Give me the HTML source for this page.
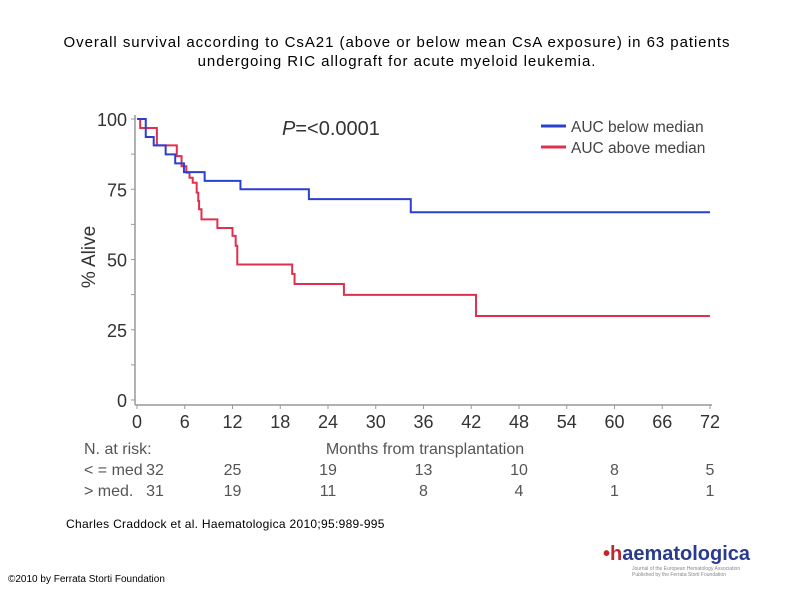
<!DOCTYPE html>
<html><head><meta charset="utf-8"><style>
body{margin:0;background:#fff;}
#wrap{position:relative;width:794px;height:595px;overflow:hidden;font-family:"Liberation Sans",sans-serif;}
.t{position:absolute;left:0;width:794px;text-align:center;font-size:15px;line-height:19px;top:33px;color:#000;letter-spacing:0.95px;}
svg text{font-family:"Liberation Sans",sans-serif;}
</style></head><body>
<div id="wrap">
<div class="t">Overall survival according to CsA21 (above or below mean CsA exposure) in 63 patients<br>undergoing RIC allograft for acute myeloid leukemia.</div>
<svg id="chart" width="794" height="595" style="position:absolute;left:0;top:0"></svg>
<div style="position:absolute;left:66px;top:517px;font-size:12px;letter-spacing:0.3px">Charles Craddock et al. Haematologica 2010;95:989-995</div>
<div style="position:absolute;left:8px;top:574px;font-size:10px">©2010 by Ferrata Storti Foundation</div>
<div style="position:absolute;left:603px;top:543px;font-size:20px;font-weight:bold;color:#2a3b8f"><span style="color:#c0282e">•h</span>aematologica</div>
<div style="position:absolute;left:632px;top:566px;font-size:5px;color:#888;line-height:6px">Journal of the European Hematology Association<br>Published by the Ferrata Storti Foundation</div>
</div>
<script>
const xTicks=[0,6,12,18,24,30,36,42,48,54,60,66,72];
const yTicks=[0,25,50,75,100];
const blueT=[0,1.1,2.1,3.6,4.8,5.9,8.5,13,21.6,34.4];
const blueS=[100,93.6,90.6,87.4,84.2,81.1,78,75,71.5,66.8];
const redT=[0,0.4,2.5,5.0,5.6,6.2,6.6,7.0,7.5,7.7,7.8,8.1,10.1,12.0,12.4,12.6,19.5,19.8,26.0,42.6];
const redS=[100,96.8,90.6,86.8,83.2,80.9,79.1,77.3,73.8,70.8,67.9,64.3,61.2,58.4,54.9,48.2,44.9,41.3,37.4,29.9];
const riskCols=[0,12,24,36,48,60,72];
const riskBelow=[32,25,19,13,10,8,5];
const riskAbove=[31,19,11,8,4,1,1];
const NS="http://www.w3.org/2000/svg",svg=document.getElementById('chart');
const X=m=>137+m*(710-137)/72, Y=p=>400-p*(400-119)/100;
function el(t,a,txt){const e=document.createElementNS(NS,t);for(const k in a)e.setAttribute(k,a[k]);if(txt!==undefined)e.textContent=txt;svg.appendChild(e);return e;}
let a=el('line',{x1:135,y1:115,x2:135,y2:405,stroke:'#999','stroke-width':1.5});

a=el('line',{x1:135,y1:405,x2:712,y2:405,stroke:'#999','stroke-width':1.5});

for(let i=0;i<=8;i++){el('line',{x1:131,x2:135,y1:Y(i*12.5),y2:Y(i*12.5),stroke:'#999'});}
xTicks.forEach(v=>{el('line',{x1:X(v),x2:X(v),y1:405,y2:409,stroke:'#999'});
 const t=el('text',{x:X(v),y:428,'font-size':18,'text-anchor':'middle',fill:'#333'},v);
 });
yTicks.forEach(v=>{const t=el('text',{x:127,y:Y(v)+7,'font-size':18,'text-anchor':'end',fill:'#333'},v);
 });
let t=el('text',{x:0,y:0,'font-size':19,'text-anchor':'middle',fill:'#333',transform:'translate(95,257) rotate(-90)'},'% Alive');

t=el('text',{x:425,y:454,'font-size':16,'text-anchor':'middle',fill:'#555'},'Months from transplantation');

t=el('text',{x:282,y:135,'font-size':20,fill:'#333'});t.innerHTML='<tspan font-style="italic">P</tspan>=&lt;0.0001';

function path(T,S,c,name){let d='M'+X(T[0])+','+Y(S[0]);for(let i=1;i<T.length;i++){d+='H'+X(T[i])+'V'+Y(S[i]);}d+='H'+X(72);
 const p=el('path',{d:d,fill:'none',stroke:c,'stroke-width':2});}
path(redT,redS,'#e0304f','series-auc-above');
path(blueT,blueS,'#2a40d0','series-auc-below');
[['AUC below median','#2a40d0',126],['AUC above median','#e0304f',147]].forEach(([l,c,y])=>{
 const g=el('line',{x1:541,x2:566,y1:y,y2:y,stroke:c,'stroke-width':3});
 const tx=el('text',{x:571,y:y+6,'font-size':15.5,fill:'#444'},l);});
t=el('text',{x:84,y:454,'font-size':16,fill:'#555'},'N. at risk:');
t=el('text',{x:84,y:475,'font-size':16,fill:'#555'},'< = med');
t=el('text',{x:84,y:496,'font-size':16,fill:'#555'},'> med.');
riskCols.forEach((m,i)=>{const x=i===0?155:X(m);
 let r=el('text',{x:x,y:475,'font-size':16,'text-anchor':'middle',fill:'#555'},riskBelow[i]);
 r=el('text',{x:x,y:496,'font-size':16,'text-anchor':'middle',fill:'#555'},riskAbove[i]);});
</script>
</body></html>
